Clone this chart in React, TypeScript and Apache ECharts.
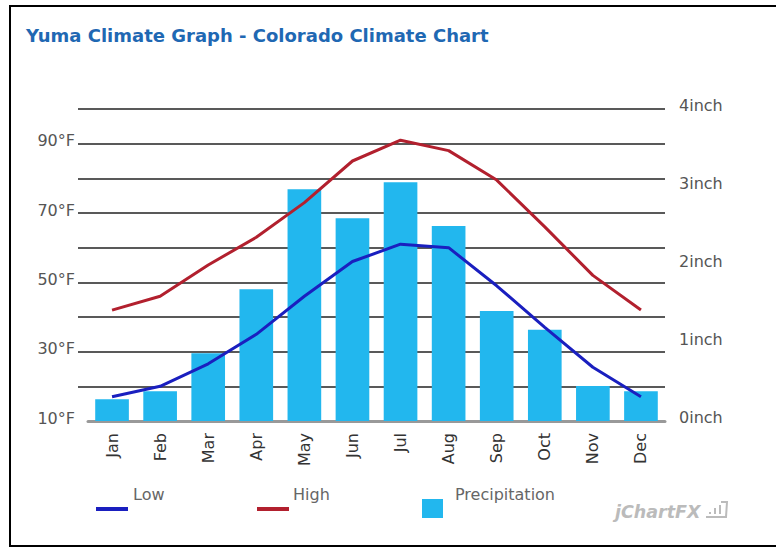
import React, { useEffect, useRef } from "react";
import * as echarts from "echarts";

const months = ["Jan", "Feb", "Mar", "Apr", "May", "Jun", "Jul", "Aug", "Sep", "Oct", "Nov", "Dec"];
const highF = [42, 46, 55, 63, 73, 85, 91, 88, 79.5, 66, 52, 42];
const lowF = [17, 20, 26.5, 35, 46, 56, 61, 60, 49, 37, 25.5, 17];
const precipInch = [0.28, 0.38, 0.87, 1.69, 2.97, 2.6, 3.06, 2.5, 1.41, 1.17, 0.45, 0.38];
const leftTickLabels = [10, 30, 50, 70, 90];

const FONT = "DejaVu Sans";
const BAR = "#22b7ee";
const LOW = "#1a1fbf";
const HIGH = "#b2202e";

export default function App() {
  const ref = useRef<HTMLDivElement>(null);
  useEffect(() => {
    document.body.style.margin = "0";
    const chart = echarts.init(ref.current!, null, { renderer: "svg" });
    chart.setOption({
      animation: false,
      backgroundColor: "#fff",
      title: {
        text: "Yuma Climate Graph - Colorado Climate Chart",
        left: 26,
        top: 26,
        padding: 0,
        textStyle: { fontFamily: FONT, fontSize: 18, fontWeight: "bold", color: "#1f68b3" },
      },
      grid: { left: 88, right: 111, top: 109, bottom: 127 },
      xAxis: {
        type: "category",
        data: months,
        axisLine: { show: true, lineStyle: { color: "#999", width: 3 } },
        axisTick: { show: false },
        axisLabel: { rotate: 90, margin: 12, fontFamily: FONT, fontSize: 16, color: "#333" },
      },
      yAxis: [
        {
          type: "value",
          min: 10,
          max: 100,
          interval: 10,
          axisLine: { show: false },
          axisTick: {
            show: true,
            length: 10,
            customValues: [20, 30, 40, 50, 60, 70, 80, 90, 100],
            lineStyle: { color: "#222", width: 1.5 },
          },
          splitLine: { show: true, lineStyle: { color: "#222", width: 1.5 } },
          axisLabel: {
            customValues: leftTickLabels,
            formatter: (v: number) => v + "°F",
            margin: 13,
            fontFamily: FONT,
            fontSize: 16,
            color: "#555",
            verticalAlign: "bottom",
            lineHeight: 6,
          },
        },
        {
          type: "value",
          min: 0,
          max: 4,
          interval: 1,
          axisLine: { show: false },
          axisTick: { show: false },
          splitLine: { show: false },
          axisLabel: {
            formatter: (v: number) => v + "inch",
            margin: 14,
            fontFamily: FONT,
            fontSize: 16,
            color: "#555",
            verticalAlign: "bottom",
            lineHeight: 8,
          },
        },
      ],
      series: [
        {
          name: "Precipitation",
          type: "bar",
          yAxisIndex: 1,
          data: precipInch,
          barWidth: "70%",
          itemStyle: { color: BAR },
          z: 1,
        },
        {
          name: "Low",
          type: "line",
          yAxisIndex: 0,
          data: lowF,
          symbol: "none",
          lineStyle: { color: LOW, width: 3 },
          itemStyle: { color: LOW },
          z: 3,
        },
        {
          name: "High",
          type: "line",
          yAxisIndex: 0,
          data: highF,
          symbol: "none",
          lineStyle: { color: HIGH, width: 3 },
          itemStyle: { color: HIGH },
          z: 3,
        },
      ],
      graphic: [
        {
          type: "rect",
          shape: { x: 10, y: 6, width: 790, height: 540 },
          style: { fill: "none", stroke: "#000", lineWidth: 2 },
          silent: true,
        },
        { type: "line", shape: { x1: 96, y1: 509, x2: 128, y2: 509 }, style: { stroke: LOW, lineWidth: 4 } },
        { type: "text", x: 133, y: 494, style: { text: "Low", font: `16px '${FONT}'`, fill: "#666", verticalAlign: "middle" } },
        { type: "line", shape: { x1: 257, y1: 509, x2: 289, y2: 509 }, style: { stroke: HIGH, lineWidth: 4 } },
        { type: "text", x: 293, y: 494, style: { text: "High", font: `16px '${FONT}'`, fill: "#666", verticalAlign: "middle" } },
        { type: "rect", shape: { x: 422, y: 499, width: 21, height: 19 }, style: { fill: BAR } },
        { type: "text", x: 455, y: 494, style: { text: "Precipitation", font: `16px '${FONT}'`, fill: "#666", verticalAlign: "middle" } },
        {
          type: "text",
          x: 615,
          y: 512,
          style: { text: "jChartFX", font: `italic bold 17.5px '${FONT}'`, fill: "#bbbbbb", verticalAlign: "middle" },
        },
        { type: "rect", shape: { x: 709, y: 512, width: 2, height: 2 }, style: { fill: "#bbbbbb" } },
        { type: "rect", shape: { x: 714, y: 508, width: 2, height: 6 }, style: { fill: "#bbbbbb" } },
        { type: "rect", shape: { x: 719, y: 505, width: 2, height: 9 }, style: { fill: "#bbbbbb" } },
        {
          type: "polyline",
          shape: { points: [[721, 502], [727, 502], [726, 517], [706, 517]] },
          style: { stroke: "#bbbbbb", lineWidth: 2, fill: "none" },
        },
      ],
    });
    return () => chart.dispose();
  }, []);
  return <div ref={ref} style={{ width: 776, height: 548 }} />;
}
